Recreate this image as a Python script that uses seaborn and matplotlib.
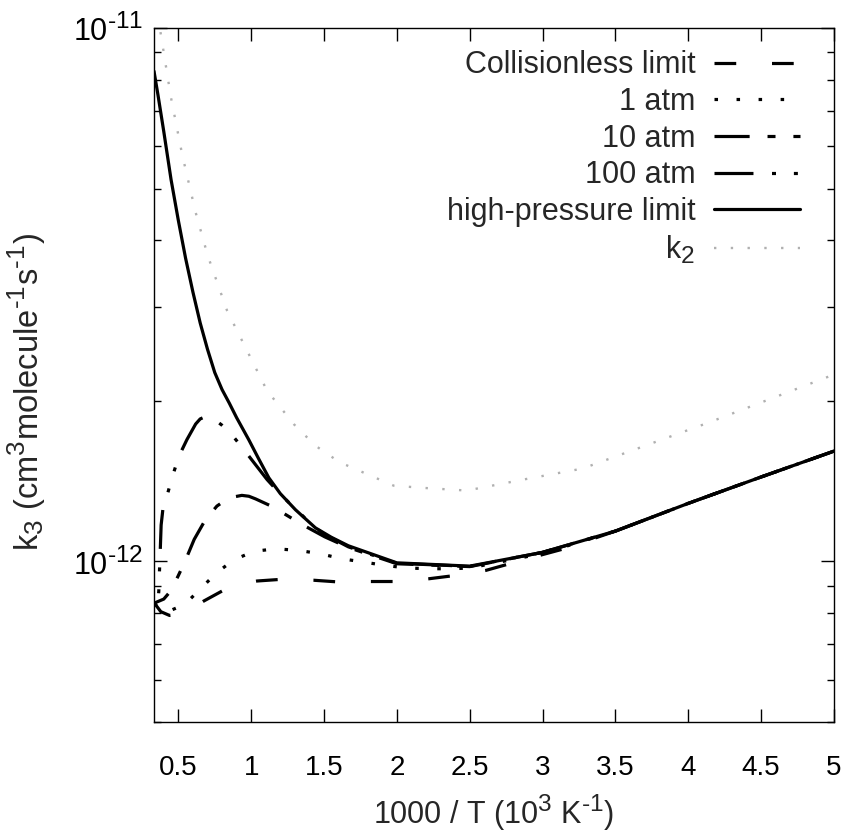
import numpy as np
import pandas as pd
import matplotlib
matplotlib.use("Agg")
import matplotlib.pyplot as plt
import matplotlib.ticker as mticker
from matplotlib.lines import Line2D
import matplotlib._mathtext as _mt
import seaborn as sns

# ---------------- data (k values in units of 1e-12 cm^3 molecule^-1 s^-1) ----------------
UNIT = 1e-12

x_coll = [0.333, 0.38, 0.44, 0.50, 0.60, 0.675, 0.80, 0.90, 1.04, 1.19, 1.43, 1.58,
          1.83, 2.00, 2.22, 2.37, 2.61, 2.75, 3.00, 3.13, 3.50, 4.00, 4.50, 5.00]
k_coll = [0.837, 0.805, 0.792, 0.795, 0.818, 0.843, 0.880, 0.905, 0.919, 0.925, 0.922, 0.916,
          0.917, 0.917, 0.928, 0.939, 0.962, 0.986, 1.030, 1.053, 1.140, 1.285, 1.440, 1.610]

x_1atm = [0.333, 0.40, 0.45, 0.545, 0.653, 0.762, 0.881, 1.02, 1.171, 1.322, 1.473, 1.619,
          1.773, 1.921, 2.069, 2.222, 2.377, 2.50, 3.00, 3.50, 4.00, 4.50, 5.00]
k_1atm = [0.835, 0.805, 0.810, 0.831, 0.889, 0.952, 1.007, 1.045, 1.056, 1.049, 1.034, 1.012,
          0.997, 0.983, 0.972, 0.969, 0.969, 0.972, 1.035, 1.140, 1.285, 1.440, 1.610]

x_10atm = [0.333, 0.40, 0.447, 0.497, 0.545, 0.609, 0.687, 0.765, 0.847, 0.936, 0.984, 1.03,
           1.148, 1.349, 1.505, 1.667, 2.00, 2.50, 3.00, 3.50, 4.00, 4.50, 5.00]
k_10atm = [0.835, 0.850, 0.880, 0.937, 0.999, 1.100, 1.199, 1.270, 1.316, 1.330, 1.325, 1.310,
           1.266, 1.173, 1.112, 1.062, 0.990, 0.978, 1.040, 1.140, 1.285, 1.440, 1.610]

x_100atm = [0.333, 0.360, 0.366, 0.370, 0.376, 0.382, 0.395, 0.417, 0.458, 0.504, 0.559, 0.619,
            0.65, 0.68, 0.715, 0.749, 0.80, 0.863, 0.95, 1.109, 1.208, 1.416, 1.50, 1.667,
            2.00, 2.50, 3.00, 3.50, 4.00, 4.50, 5.00]
k_100atm = [0.835, 0.840, 0.880, 0.950, 1.050, 1.170, 1.260, 1.312, 1.439, 1.575, 1.692, 1.810,
            1.850, 1.865, 1.862, 1.845, 1.800, 1.734, 1.620, 1.424, 1.330, 1.172, 1.125, 1.065,
            0.992, 0.979, 1.040, 1.140, 1.285, 1.440, 1.610]

x_hp = [0.333, 0.36, 0.40, 0.45, 0.50, 0.55, 0.60, 0.65, 0.70, 0.75, 0.80, 0.85, 0.90,
        0.984, 1.05, 1.121, 1.20, 1.304, 1.441, 1.55, 1.667, 2.00, 2.50, 3.00, 3.50,
        4.00, 4.50, 5.00]
k_hp = [8.30, 7.50, 6.40, 5.20, 4.36, 3.70, 3.20, 2.80, 2.50, 2.26, 2.10, 1.98, 1.86,
        1.69, 1.56, 1.435, 1.34, 1.25, 1.156, 1.11, 1.07, 0.994, 0.980, 1.040, 1.140,
        1.285, 1.440, 1.610]

x_k2 = [0.333, 0.385, 0.449, 0.527, 0.619, 0.701, 0.835, 1.109, 1.294, 1.441, 1.606,
        1.978, 2.176, 2.48, 2.88, 3.273, 4.137, 4.98]
k_k2 = [11.7, 9.54, 7.42, 5.78, 4.51, 3.75, 2.95, 2.09, 1.807, 1.648, 1.535,
        1.387, 1.374, 1.358, 1.426, 1.493, 1.82, 2.23]

labels = ["Collisionless limit", "1 atm", "10 atm", "100 atm", "high-pressure limit",
          r"k$\mathregular{_2}$"]
x_ticks = [0.5, 1, 1.5, 2, 2.5, 3, 3.5, 4, 4.5, 5]
x_tick_labels = ["0.5", "1", "1.5", "2", "2.5", "3", "3.5", "4", "4.5", "5"]

# ---------------- style ----------------
sns.set_style("ticks")
plt.rcParams["font.family"] = ["Liberation Sans", "DejaVu Sans"]
plt.rcParams["mathtext.fontset"] = "custom"
plt.rcParams["mathtext.rm"] = "Liberation Sans"
plt.rcParams["mathtext.it"] = "Liberation Sans:italic"
plt.rcParams["mathtext.bf"] = "Liberation Sans:bold"
_mt.SHRINK_FACTOR = 0.8  # gnuplot-like larger super/subscripts

FS_TICK = 20
FS = 22
fig = plt.figure(figsize=(8.48, 8.32), dpi=100)
ax = fig.add_axes([0.1816, 0.1322, 0.8019, 0.8341])

LW = 2.3
styles = [
    ("black", LW, (6.8, 11.2), 0.0),
    ("black", LW, (1.1, 5.8), 0.0),
    ("black", LW, (11.0, 5.6, 2.5, 5.6), 5.5),
    ("black", LW, (12.2, 5.8, 1.25, 5.6, 1.25, 5.8), 14.0),
    ("black", LW, None, 0.0),
    ("#b0b0b0", 1.7, (1.0, 6.1), 0.0),
]
data = [(x_coll, k_coll), (x_1atm, k_1atm), (x_10atm, k_10atm), (x_100atm, k_100atm),
        (x_hp, k_hp), (x_k2, k_k2)]

handles = []
for (xs, ks), (col, lw, pat, off), lab in zip(data, styles, labels):
    df = pd.DataFrame({"x": xs, "k": np.array(ks) * UNIT})
    ls = "-" if pat is None else (off, pat)
    sns.lineplot(data=df, x="x", y="k", ax=ax, color=col, linewidth=lw,
                 linestyle=ls, estimator=None, sort=True,
                 solid_joinstyle="round")
    hls = "-" if pat is None else (0, pat)
    handles.append(Line2D([], [], color=col, linewidth=lw, linestyle=hls))

ax.set_yscale("log")
ax.set_xlim(0.333, 5.0)
ax.set_ylim(5e-13, 1e-11)

ax.set_xticks(x_ticks)
ax.set_xticklabels(x_tick_labels)
ax.yaxis.set_major_locator(mticker.FixedLocator([1e-12, 1e-11]))
ax.yaxis.set_major_formatter(mticker.FixedFormatter(
    [r"$\mathregular{10^{\text{-}12}}$", r"$\mathregular{10^{\text{-}11}}$"]))
ax.yaxis.set_minor_locator(mticker.LogLocator(base=10, subs=np.arange(2, 10), numticks=20))
ax.yaxis.set_minor_formatter(mticker.NullFormatter())
ax.xaxis.set_minor_locator(mticker.NullLocator())

ax.tick_params(which="both", direction="in", top=True, right=True, width=1.0, colors="black")
ax.tick_params(which="major", length=9.5)
ax.tick_params(which="minor", length=5)
ax.tick_params(axis="x", which="major", pad=24, labelsize=FS_TICK)
ax.tick_params(axis="y", which="major", pad=8, labelsize=22)

for s in ax.spines.values():
    s.set_linewidth(1.0)
    s.set_color("black")

ax.set_xlabel(r"1000 / T (10$\mathregular{^3}$ K$\mathregular{^{\text{-}1}}$)", fontsize=FS, labelpad=8)
ax.set_ylabel(r"k$\mathregular{_3}$ (cm$\mathregular{^3}$molecule$\mathregular{^{\text{-}1}}$s$\mathregular{^{\text{-}1}}$)",
              fontsize=23.5)
ax.yaxis.set_label_coords(-0.158, 0.475)

leg = ax.legend(handles, labels, loc="upper right", bbox_to_anchor=(0.95, 0.968), frameon=False,
                markerfirst=False, handlelength=2.81, handletextpad=0.62,
                labelspacing=0.22, borderaxespad=0, borderpad=0, fontsize=FS)

fig.savefig("out.png", dpi=100)
